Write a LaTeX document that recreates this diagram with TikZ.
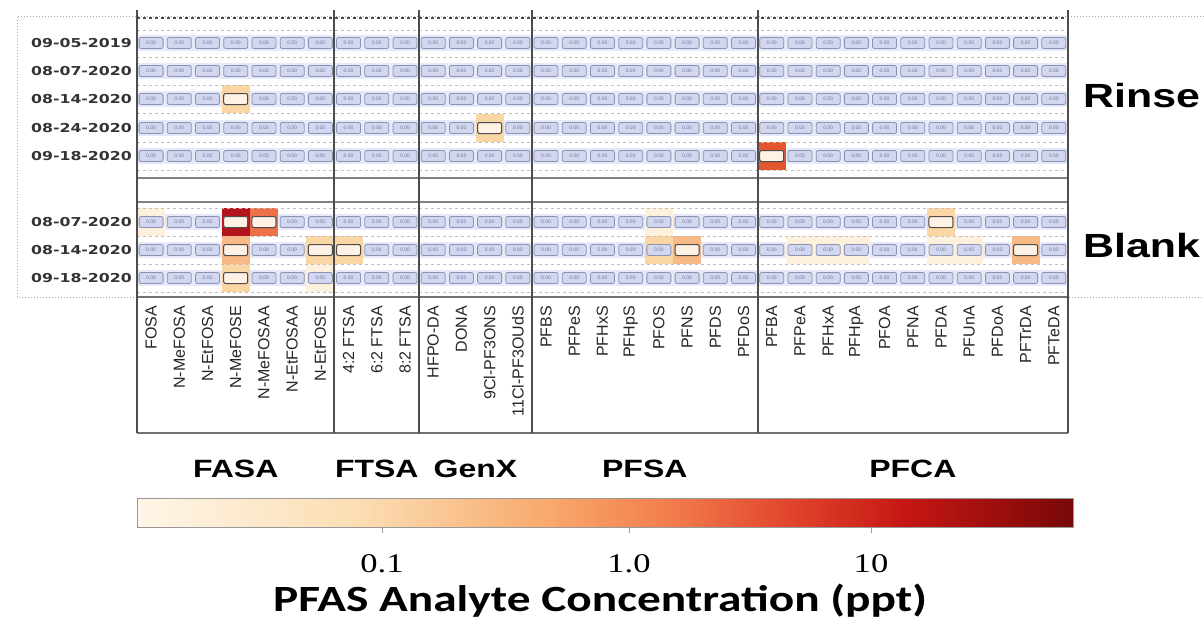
\documentclass[tikz,border=0pt]{standalone}
\usepackage{fontspec}
\setmainfont{Liberation Sans}
\newfontfamily\titlefont{Carlito}
\newfontfamily\tickfont{Liberation Serif}
\newfontfamily\datefont{DejaVu Sans}
\usetikzlibrary{positioning, calc}

\definecolor{bandfill}{HTML}{E6E9F7}
\definecolor{cellfill}{HTML}{D2D7EF}
\definecolor{celldraw}{HTML}{8A92B6}
\definecolor{celltext}{HTML}{6F7799}
\definecolor{gridline}{HTML}{4D4D4D}
\definecolor{heatP}{HTML}{FDF0DC}
\definecolor{heatA}{HTML}{FAD6A4}
\definecolor{heatB}{HTML}{F7BA84}
\definecolor{heatC}{HTML}{EC7048}
\definecolor{heatD}{HTML}{E2552D}
\definecolor{heatE}{HTML}{B3141B}
\definecolor{bar0}{HTML}{FEF6E8}
\definecolor{bar1}{HTML}{FBDDB2}
\definecolor{bar2}{HTML}{F9A86C}
\definecolor{bar3}{HTML}{F3804F}
\definecolor{bar4}{HTML}{E0442C}
\definecolor{bar5}{HTML}{C61714}
\definecolor{bar6}{HTML}{780808}

\pgfdeclarehorizontalshading{orrdbar}{100bp}{color(0bp)=(bar0); color(25bp)=(bar0);
  color(37bp)=(bar1); color(47bp)=(bar2); color(53bp)=(bar3); color(60bp)=(bar4);
  color(66bp)=(bar5); color(75bp)=(bar6); color(100bp)=(bar6)}

% text in the figure is a bit stretched sideways
\newcommand{\hs}[1]{\scalebox{1.28}[1]{#1}}

\begin{document}
\begin{tikzpicture}[
    x=1pt, y=-1pt,
    cellbox/.style={
        rectangle,
        draw=celldraw,
        line width=0.8pt,
        fill=cellfill,
        rounded corners=2pt,
        minimum width=24pt,
        minimum height=11pt,
        inner sep=0pt,
        text=celltext,
        font=\fontsize{5}{5}\selectfont
    },
    hitbox/.style={
        cellbox,
        draw=black!70,
        line width=1pt,
        fill=white!90!orange
    },
    datelabel/.style={anchor=east, inner sep=0pt, text=black!80,
        font=\datefont\bfseries\fontsize{12.3}{14}\selectfont},
    collabel/.style={rotate=90, anchor=east, inner sep=0pt, text=black!85,
        font=\fontsize{16}{17}\selectfont},
    grouplabel/.style={anchor=base, inner sep=0pt, font=\bfseries\fontsize{25}{28}\selectfont},
    setlabel/.style={anchor=base west, inner sep=0pt, font=\bfseries\fontsize{33.5}{36}\selectfont},
    ticklabel/.style={anchor=base, inner sep=0pt, font=\tickfont\fontsize{27}{30}\selectfont},
    groupline/.style={gridline, line width=2pt},
    rowsep/.style={black!25, dashed, line width=0.6pt}
]
\useasboundingbox (0,0) rectangle (1204,624);

% dotted frame round the heat map
\draw[black!35, dotted, line width=1pt] (1204,16) -- (17,16) -- (17,297) -- (1204,297);

% row bands
\foreach \ry in {43,71,99,128,156,222,250,278}
    \fill[bandfill] (137,\ry-8) rectangle (1068,\ry+8);

% detected values
\foreach \ry/\c/\hc in {99/4/heatA, 128/13/heatA, 156/23/heatD,
        222/1/heatP, 222/4/heatE, 222/5/heatC, 222/19/heatP, 222/29/heatA,
        250/4/heatB, 250/7/heatA, 250/8/heatA, 250/19/heatA, 250/20/heatB,
        250/24/heatP, 250/25/heatP, 250/26/heatP, 250/29/heatP, 250/30/heatP, 250/32/heatB,
        278/4/heatA, 278/7/heatP}
    \fill[\hc] ({137+(\c-1)*28.21},\ry-14) rectangle ({137+\c*28.21},\ry+14);

% faint row separators
\foreach \yy in {30,57,85,113.5,142,170,208,236,264,292}
    \draw[rowsep] (137,\yy) -- (1068,\yy);

% cells
\foreach \ry/\rn in {43/r1,71/r2,99/r3,128/r4,156/r5,222/b1,250/b2,278/b3}
    \foreach \c in {1,...,33}
        \node[cellbox] (\rn-\c) at ({137+(\c-0.5)*28.21},\ry) {0.00};

\foreach \ry/\rn/\c in {99/r3/4, 128/r4/13, 156/r5/23, 222/b1/4, 222/b1/5, 222/b1/29,
        250/b2/4, 250/b2/7, 250/b2/8, 250/b2/20, 250/b2/32, 278/b3/4}
    \node[hitbox] (hit-\rn-\c) at ({137+(\c-0.5)*28.21},\ry) {};

% frame and group lines
\draw[gridline, dashed, line width=1.3pt] (137,18) -- (1068,18);
\draw[gridline!70, line width=1.2pt] (137,178) -- (1068,178);
\draw[gridline!70, line width=1.2pt] (137,202) -- (1068,202);
\draw[gridline!80, line width=1.2pt] (137,297) -- (1068,297);
\draw[gridline!80, line width=1.5pt] (137,433) -- (1068,433);
\foreach \xx in {137,334.47,419.1,531.94,757.62,1067.93}
    \draw[groupline] (\xx,10) -- (\xx,433);

% sample dates
\foreach \ry/\dt [count=\i] in {43/09-05-2019,71/08-07-2020,99/08-14-2020,128/08-24-2020,
        156/09-18-2020,222/08-07-2020,250/08-14-2020,278/09-18-2020}
    \node[datelabel] (date\i) at (132,\ry) {\hs{\dt}};

\node[setlabel] (rinse) at (1083,107) {\hs{Rinse}};
\node[setlabel] (blank) at (1083,257) {\hs{Blank}};

% analyte names
\foreach \lab [count=\c] in {FOSA, N-MeFOSA, N-EtFOSA, N-MeFOSE, N-MeFOSAA, N-EtFOSAA, N-EtFOSE,
        4:2 FTSA, 6:2 FTSA, 8:2 FTSA, HFPO-DA, DONA, 9Cl-PF3ONS, 11Cl-PF3OUdS,
        PFBS, PFPeS, PFHxS, PFHpS, PFOS, PFNS, PFDS, PFDoS,
        PFBA, PFPeA, PFHxA, PFHpA, PFOA, PFNA, PFDA, PFUnA, PFDoA, PFTrDA, PFTeDA}
    \node[collabel] (col\c) at ({137+(\c-0.5)*28.21},306) {\lab};

% analyte classes
\node[grouplabel] (fasa) at (235.7,477) {\hs{FASA}};
\node[grouplabel] (ftsa) at (376.8,477) {\hs{FTSA}};
\node[grouplabel] (genx) at (475.5,477) {\hs{GenX}};
\node[grouplabel] (pfsa) at (644.8,477) {\hs{PFSA}};
\node[grouplabel] (pfca) at (912.8,477) {\hs{PFCA}};

% colour bar
\shade[shading=orrdbar] (137,498) rectangle (1073,527);
\draw[black!40, line width=0.8pt] (137,498) rectangle (1073,527);
\foreach \tx/\tl [count=\i] in {382/0.1, 629/1.0, 871/10} {
    \draw[black!40, line width=0.8pt] (\tx,527) -- (\tx,533);
    \node[ticklabel] (tick\i) at (\tx,572) {\hs{\tl}};
}
\node[anchor=base, inner sep=0pt, font=\titlefont\bfseries\fontsize{37}{40}\selectfont]
    (title) at (600,611) {\hs{PFAS Analyte Concentration (ppt)}};

\end{tikzpicture}
\end{document}
